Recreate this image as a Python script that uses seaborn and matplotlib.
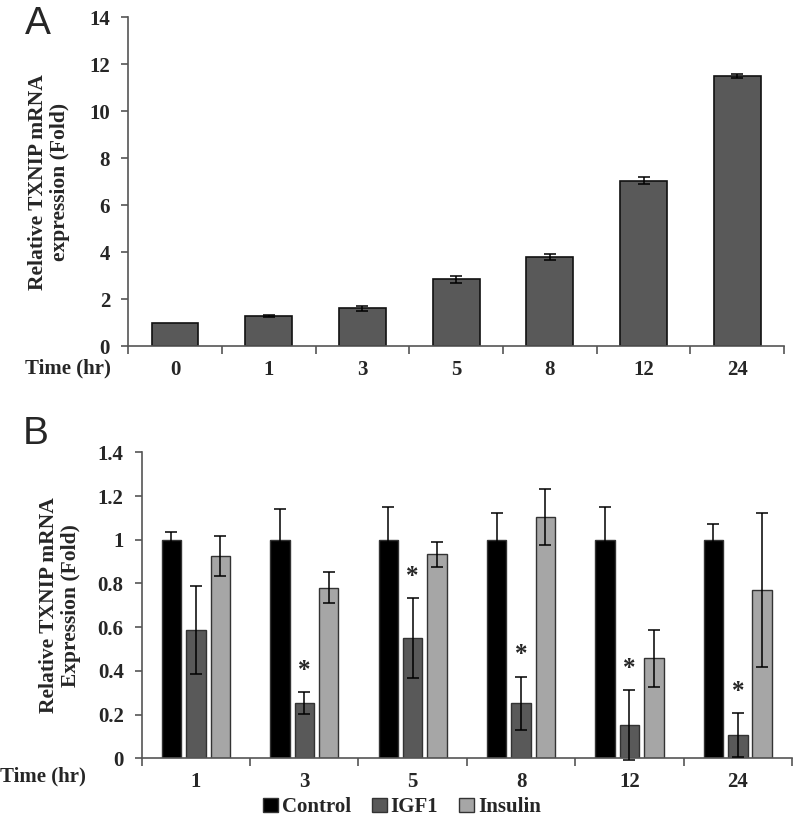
import numpy as np
import pandas as pd
import matplotlib
matplotlib.use("Agg")
import matplotlib.pyplot as plt
import seaborn as sns
from matplotlib.patches import Patch

# ── datos panel A ─────────────────────────────────────────────
tiempos_a = ["0", "1", "3", "5", "8", "12", "24"]
valores_a = [1.0, 1.28, 1.60, 2.85, 3.78, 7.03, 11.50]
errores_a = [0.0, 0.03, 0.12, 0.15, 0.12, 0.15, 0.07]

# ── datos panel B ─────────────────────────────────────────────
tiempos_b = ["1", "3", "5", "8", "12", "24"]
grupos = ["Control", "IGF1", "Insulin"]
control = [1.0, 1.0, 1.0, 1.0, 1.0, 1.0]
control_err = [0.035, 0.139, 0.15, 0.124, 0.151, 0.073]
igf1 = [0.588, 0.252, 0.55, 0.252, 0.152, 0.107]
igf1_err = [0.20, 0.05, 0.182, 0.121, 0.16, 0.10]
insulin = [0.927, 0.78, 0.933, 1.104, 0.457, 0.77]
insulin_err = [0.091, 0.071, 0.057, 0.128, 0.13, 0.352]
asteriscos = [False, True, True, True, True, True]

colores = {"Control": "#000000", "IGF1": "#595959", "Insulin": "#a6a6a6"}

sns.set_style("white")
plt.rcParams["font.family"] = ["Liberation Serif", "DejaVu Serif"]
plt.rcParams["font.weight"] = "bold"

TAM = 15  # tamaño de etiquetas de ejes

fig = plt.figure(figsize=(7.96, 8.22), dpi=100)
ax_a = fig.add_axes([0.161, 0.579, 0.824, 0.400])
ax_b = fig.add_axes([0.178, 0.0775, 0.817, 0.3722])

eje_color = "#555555"


def estilo_eje(ax, n):
    for s in ["top", "right"]:
        ax.spines[s].set_visible(False)
    for s in ["left", "bottom"]:
        ax.spines[s].set_color(eje_color)
        ax.spines[s].set_linewidth(1.2)
    ax.set_xlim(-0.5, n - 0.5)
    ax.set_xticks(np.arange(-0.5, n, 1.0))
    ax.set_xticklabels([])
    ax.tick_params(axis="x", which="major", direction="out", length=6,
                   color=eje_color, width=1.2, bottom=True)
    ax.tick_params(axis="y", direction="out", length=5, color=eje_color,
                   width=1.2, left=True, labelsize=TAM, pad=8)
    ax.set_xlabel("")
    for lab in ax.get_yticklabels():
        lab.set_fontweight("bold")


# ── Panel A ──────────────────────────────────────────────────
df_a = pd.DataFrame({"Time": tiempos_a, "Fold": valores_a})
sns.barplot(data=df_a, x="Time", y="Fold", color="#595959", width=0.5,
            edgecolor="#111111", linewidth=1.2, saturation=1, errorbar=None, ax=ax_a)
for barra, e in zip(ax_a.containers[0], errores_a):
    if e > 0:
        cx = barra.get_x() + barra.get_width() / 2
        ax_a.errorbar(cx, barra.get_height(), yerr=e, color="black",
                      capsize=4, elinewidth=1.1, capthick=1.1, zorder=5)
ax_a.set_ylim(0, 14)
ax_a.set_yticks(np.arange(0, 15, 2))
estilo_eje(ax_a, len(tiempos_a))
ax_a.set_xticks(np.arange(len(tiempos_a)), minor=True)
ax_a.set_xticklabels(tiempos_a, minor=True, fontsize=TAM, fontweight="bold")
ax_a.tick_params(axis="x", which="minor", length=0, pad=10)
ax_a.set_ylabel("Relative TXNIP mRNA\nexpression (Fold)", fontsize=15.5,
                fontweight="bold", labelpad=14, linespacing=1.1)
fig.text(0.032, 0.552, "Time (hr)", fontsize=TAM, fontweight="bold", va="center")
fig.text(0.031, 0.971, "A", fontsize=28, family="Liberation Sans",
         fontweight="normal", va="center")

# ── Panel B ──────────────────────────────────────────────────
df_b = pd.DataFrame({
    "Time": tiempos_b * 3,
    "Grupo": ["Control"] * 6 + ["IGF1"] * 6 + ["Insulin"] * 6,
    "Fold": control + igf1 + insulin,
})
sns.barplot(data=df_b, x="Time", y="Fold", hue="Grupo", hue_order=grupos,
            palette=colores, width=0.675, gap=0.2, edgecolor="#333333",
            linewidth=1.0, saturation=1, errorbar=None, legend=False, ax=ax_b)
errores_b = [control_err, igf1_err, insulin_err]
for cont, errs, g in zip(ax_b.containers, errores_b, grupos):
    for i, (barra, e) in enumerate(zip(cont, errs)):
        cx = barra.get_x() + barra.get_width() / 2
        top = barra.get_height()
        ax_b.errorbar(cx, top, yerr=e, color="black", capsize=4,
                      elinewidth=1.1, capthick=1.1, zorder=5, clip_on=False)
        if g == "IGF1" and asteriscos[i]:
            ax_b.text(cx, top + e + 0.1, "*", ha="center", va="center",
                      fontsize=18, fontweight="bold")
ax_b.set_ylim(0, 1.4)
ax_b.set_yticks(np.arange(0, 1.41, 0.2))
ax_b.set_yticklabels(["0", "0.2", "0.4", "0.6", "0.8", "1", "1.2", "1.4"])
estilo_eje(ax_b, len(tiempos_b))
ax_b.set_xticks(np.arange(len(tiempos_b)), minor=True)
ax_b.set_xticklabels(tiempos_b, minor=True, fontsize=TAM, fontweight="bold")
ax_b.tick_params(axis="x", which="minor", length=0, pad=10)
ax_b.set_ylabel("Relative TXNIP mRNA\nExpression (Fold)", fontsize=15.5,
                fontweight="bold", labelpad=12, linespacing=1.1)
fig.text(0.0, 0.055, "Time (hr)", fontsize=TAM, fontweight="bold", va="center")
fig.text(0.029, 0.472, "B", fontsize=28, family="Liberation Sans",
         fontweight="normal", va="center")

manijas = [Patch(facecolor=colores[g], edgecolor="#333333", linewidth=1.0, label=g)
           for g in grupos]
fig.legend(handles=manijas, loc="center", bbox_to_anchor=(0.505, 0.018), ncol=3,
           frameon=False, handlelength=0.7, handleheight=0.7, handletextpad=0.2,
           columnspacing=1.0, prop={"weight": "bold", "size": TAM})

fig.savefig("out.png", dpi=100)
